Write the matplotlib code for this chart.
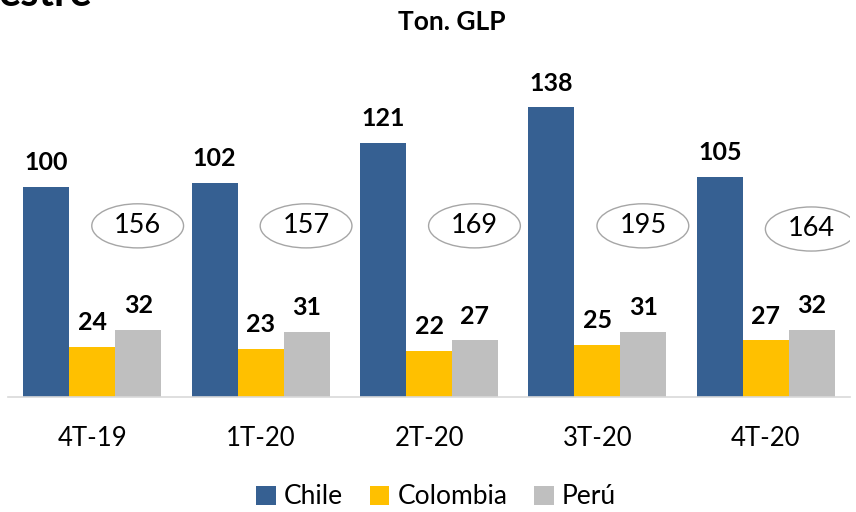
import matplotlib
matplotlib.use("Agg")
import matplotlib.pyplot as plt
from matplotlib.patches import Ellipse
import numpy as np

categories = ["4T-19", "1T-20", "2T-20", "3T-20", "4T-20"]
chile = [100, 102, 121, 138, 105]
colombia = [24, 23, 22, 25, 27]
peru = [32, 31, 27, 31, 32]
totals = [156, 157, 169, 195, 164]

plt.rcParams['font.family'] = ['Lato', 'DejaVu Sans']

fig = plt.figure(figsize=(8.56, 5.12), dpi=100)
ax = fig.add_axes([8/856, 1-397/512, 842/856, (397-60)/512])

x = np.arange(len(categories))
bw = 0.273
series = [(chile, "Chile", "#366092"), (colombia, "Colombia", "#FFC000"), (peru, "Perú", "#BFBFBF")]
for i, (vals, name, col) in enumerate(series):
    bars = ax.bar(x + (i - 1) * bw, vals, bw, color=col, label=name)
    for b, v in zip(bars, vals):
        ax.annotate(str(v), (b.get_x() + b.get_width()/2, v), xytext=(0, 9),
                    textcoords="offset points", ha="center", va="bottom",
                    fontsize=18, fontweight="bold", color="black")

ell_y = [81.5, 81.5, 81.5, 81.5, 80]
for xi, t, ey in zip(x, totals, ell_y):
    e = Ellipse((xi + 0.27, ey), width=0.545, height=21, facecolor="white",
                edgecolor="#A6A6A6", linewidth=1.0, zorder=3)
    ax.add_patch(e)
    ax.text(xi + 0.27, ey, str(t), ha="center", va="center", fontsize=19.5, zorder=4)

ax.set_xlim(-0.5, len(categories) - 0.5)
ax.set_ylim(0, (397-60)/2.1)
ax.set_xticks(x)
ax.set_xticklabels(categories, fontsize=18.5)
ax.tick_params(axis="x", length=0, pad=21)
ax.set_yticks([])
for s in ["top", "right", "left"]:
    ax.spines[s].set_visible(False)
ax.spines["bottom"].set_color("#D9D9D9")
ax.spines["bottom"].set_linewidth(1.2)

fig.text(452/856, 1-22/512, "Ton. GLP", ha="center", va="center", fontsize=19, fontweight="bold")
fig.text(-0.002, 1-6/512, "estre", ha="left", va="baseline", fontsize=30, fontweight="bold")

leg = fig.legend(loc="center", bbox_to_anchor=(436/856, 1-497/512), ncol=3, frameon=False,
                 fontsize=19, handlelength=0.75, handleheight=0.75, handletextpad=0.3, columnspacing=1.0)

fig.savefig("out.png", dpi=100)
